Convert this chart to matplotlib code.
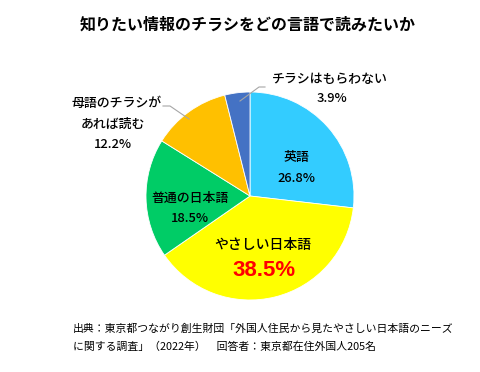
import matplotlib
matplotlib.use("Agg")
import matplotlib.pyplot as plt

plt.rcParams['font.family'] = ['Noto Sans CJK JP', 'DejaVu Sans']

categories = ['英語', 'やさしい日本語', '普通の日本語', '母語のチラシが\nあれば読む', 'チラシはもらわない']
values = [26.8, 38.5, 18.5, 12.2, 3.9]
colors = ['#33CCFF', '#FFFF00', '#00CC66', '#FFC000', '#4472C4']

title = '知りたい情報のチラシをどの言語で読みたいか'
note1 = '出典：東京都つながり創生財団「外国人住民から見たやさしい日本語のニーズ'
note2 = 'に関する調査」（2022年）　回答者：東京都在住外国人205名'

W, H = 480, 372
fig = plt.figure(figsize=(W / 100, H / 100), dpi=100)

# pie drawn in an equal-aspect axes (first, so text goes on top)
cx, cy, r = 250, 196, 104
pax = fig.add_axes([(cx - r) / W, (H - cy - r) / H, 2 * r / W, 2 * r / H])
pax.pie(values, colors=colors, startangle=90, counterclock=False,
        wedgeprops=dict(edgecolor='white', linewidth=0.6))
pax.set_xlim(-1, 1)
pax.set_ylim(-1, 1)
pax.axis('off')

ax = fig.add_axes([0, 0, 1, 1])
ax.set_xlim(0, W)
ax.set_ylim(H, 0)
ax.axis('off')

ax.text(248, 25, title, ha='center', va='center', fontsize=11.5, fontweight='bold')

fs = 9.3
fw = 'medium'
ax.text(296, 158, categories[0], ha='center', va='center', fontsize=fs, fontweight=fw)
ax.text(296, 178, f'{values[0]}%', ha='center', va='center', fontsize=fs, fontweight=fw)
ax.text(263, 245, categories[1], ha='center', va='center', fontsize=10, fontweight=fw)
ax.text(264, 271, f'{values[1]}%', ha='center', va='center', fontsize=16,
        fontweight='bold', color='#FF0000', family=['Liberation Sans'])
ax.text(190, 198, categories[2], ha='center', va='center', fontsize=fs, fontweight=fw)
ax.text(190, 218, f'{values[2]}%', ha='center', va='center', fontsize=fs, fontweight=fw)
l1, l2 = categories[3].split('\n')
ax.text(117, 103, l1, ha='center', va='center', fontsize=fs, fontweight=fw)
ax.text(113, 124, l2, ha='center', va='center', fontsize=fs, fontweight=fw)
ax.text(113, 144, f'{values[3]}%', ha='center', va='center', fontsize=fs, fontweight=fw)
ax.text(330, 80, categories[4], ha='center', va='center', fontsize=fs, fontweight=fw)
ax.text(332, 99, f'{values[4]}%', ha='center', va='center', fontsize=fs, fontweight=fw)

ax.plot([163, 170, 189], [106, 106, 119], color='#A6A6A6', lw=0.8)
ax.plot([265, 259, 240], [87, 87, 101], color='#A6A6A6', lw=0.8)

ax.text(73, 329, note1, ha='left', va='center', fontsize=7.8)
ax.text(73, 347, note2, ha='left', va='center', fontsize=7.8)

fig.savefig('out.png', dpi=100)
